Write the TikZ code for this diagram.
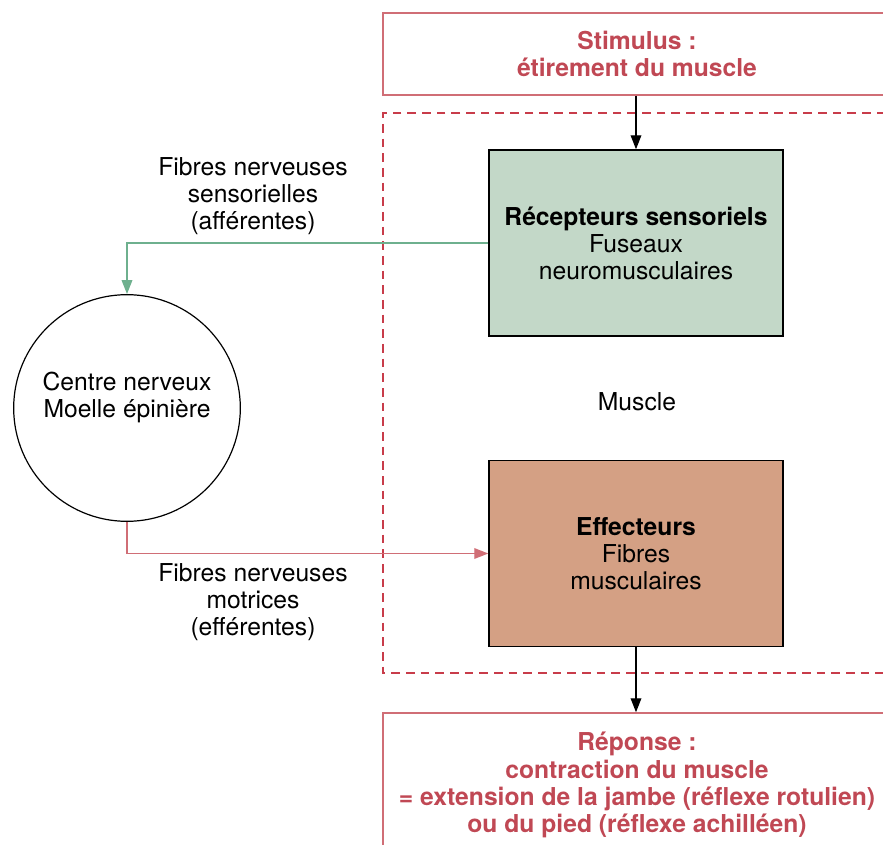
\documentclass[tikz,border=0pt]{standalone}
\usepackage{fontspec}
\setmainfont{TeX Gyre Heros}
\usepackage{tikz}
\usetikzlibrary{arrows.meta}

\definecolor{rouge}{RGB}{192,72,84}
\definecolor{rougetiret}{RGB}{200,60,74}
\definecolor{rougeclair}{RGB}{208,110,118}
\definecolor{vertfond}{RGB}{195,216,200}
\definecolor{vertligne}{RGB}{110,176,142}
\definecolor{brunfond}{RGB}{212,160,132}

\tikzset{
  txt/.style={font=\fontsize{18.5}{20.3}\selectfont, align=center, inner sep=0.75pt},
  cadre/.style={draw=rougeclair, line width=1.1pt, text=rouge, txt, font=\fontsize{18.5}{20.3}\selectfont\bfseries},
  boite/.style={draw=black, line width=1.1pt, txt, minimum width=220.5pt, minimum height=139.5pt},
  fleche/.style={-{Triangle[length=10.5pt,width=8pt]}, line width=1pt}
}

\begin{document}
\begin{tikzpicture}[x=0.75pt,y=0.75pt,yscale=-1,xscale=1]
\useasboundingbox (0,0) rectangle (883,845);
\clip (0,0) rectangle (883,845);

%Shape: Rectangle dashed (muscle)
\draw [color=rougetiret, line width=1.8pt, dash pattern=on 6.5pt off 4.5pt] (900,113) -- (383,113) -- (383,673) -- (900,673) ;

%Shape: Rectangle stimulus
\node [cadre, minimum width=381pt, minimum height=61.5pt] (stim) at (637,54) {Stimulus :\\étirement du muscle};
%Shape: Rectangle recepteurs
\node [boite, fill=vertfond] (recep) at (636,243) {\textbf{Récepteurs sensoriels}\\Fuseaux\\neuromusculaires};
%Shape: Rectangle effecteurs
\node [boite, fill=brunfond] (effect) at (636,553.5) {\textbf{Effecteurs}\\Fibres\\musculaires};
%Shape: Rectangle reponse
\node [cadre, minimum width=381pt, minimum height=108pt] (rep) at (637,785) {Réponse :\\contraction du muscle\\= extension de la jambe (réflexe rotulien)\\ou du pied (réflexe achilléen)};
%Shape: Circle
\node [circle, draw=black, line width=0.9pt, minimum size=170pt] (centre) at (127,408) {};

% Text Node
\node [txt] (centretxt) at ([yshift=-8pt]centre.center) {Centre nerveux\\Moelle épinière};
% Text Node
\node [txt] (muscle) at (637,402) {Muscle};
% Text Node
\node [txt] (afferent) at (253,196) {Fibres nerveuses\\sensorielles\\(afférentes)};
% Text Node
\node [txt] (efferent) at (253,602) {Fibres nerveuses\\motrices\\(efférentes)};

%Straight Lines
\draw [fleche] (stim.south -| recep.north) -- (recep.north) ;
\draw [fleche] (effect.south) -- (effect.south |- rep.north) ;
\draw [fleche, color=vertligne] (recep.west) -| (centre.north) ;
\draw [fleche, color=rougeclair] (centre.south) |- (effect.west) ;

\end{tikzpicture}
\end{document}
